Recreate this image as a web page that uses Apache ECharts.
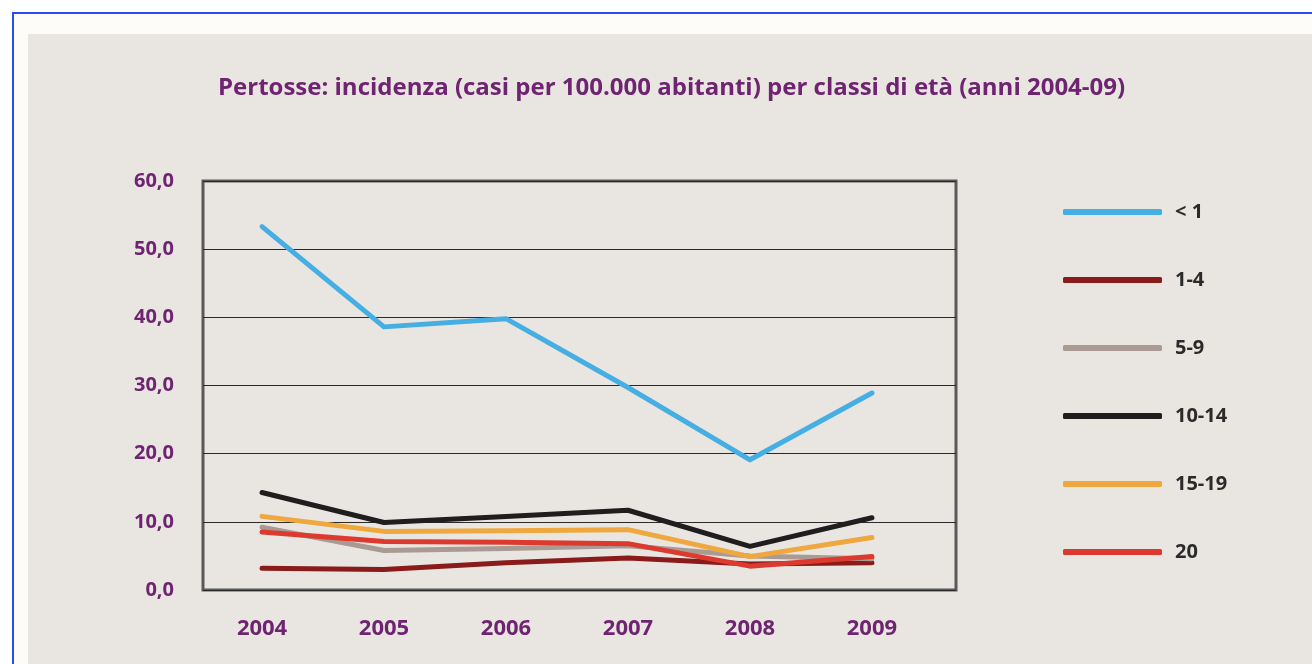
<!DOCTYPE html>
<html>
<head>
<meta charset="utf-8">
<script src="https://cdn.jsdelivr.net/npm/echarts@6/dist/echarts.min.js"></script>
<style>
  html, body { margin: 0; padding: 0; background: #ffffff; width: 1312px; height: 664px; overflow: hidden; }
  #frame { position: absolute; left: 12px; top: 12px; width: 1400px; height: 700px;
           border-left: 2px solid #2a4cf2; border-top: 2px solid #2a4cf2; background: #fdfcf9; }
  #panel { position: absolute; left: 28px; top: 34px; width: 1300px; height: 640px; background: #e9e6e2; }
  #chart { position: absolute; left: 0; top: 0; width: 1312px; height: 664px; }
</style>
</head>
<body>
<div id="frame"></div>
<div id="panel"></div>
<div id="chart"></div>
<script>
// Pertussis incidence per 100,000 inhabitants by age group, 2004-2009
const years = [2004, 2005, 2006, 2007, 2008, 2009];
const ageGroups = ['< 1', '1-4', '5-9', '10-14', '15-19', '20'];
const under1   = [53.3, 38.6, 39.8, 29.7, 19.1, 28.9];
const age1to4  = [3.2, 3.0, 4.0, 4.7, 3.8, 4.0];
const age5to9  = [9.2, 5.8, 6.1, 6.5, 5.0, 4.6];
const age10to14 = [14.3, 9.9, 10.8, 11.7, 6.4, 10.6];
const age15to19 = [10.8, 8.6, 8.7, 8.85, 4.9, 7.7];
const age20    = [8.5, 7.1, 7.0, 6.8, 3.5, 4.9];
const yTicks = [0, 10, 20, 30, 40, 50, 60];

const seriesValues = [under1, age1to4, age5to9, age10to14, age15to19, age20];
const colors = ['#45aee2', '#8a1b1b', '#a99b93', '#1f1d1d', '#efa73f', '#dc3a2e'];

const purple = '#6e2470';
const fontFam = '"Open Sans", Lato, sans-serif';

const chart = echarts.init(document.getElementById('chart'), null, { renderer: 'canvas' });

chart.setOption({
  backgroundColor: 'transparent',
  animation: false,
  title: {
    text: 'Pertosse: incidenza (casi per 100.000 abitanti) per classi di età (anni 2004-09)',
    left: 213,
    top: 71,
    textStyle: { color: purple, fontSize: 24, fontWeight: 'bold', fontFamily: fontFam }
  },
  legend: {
    orient: 'vertical',
    left: 1058,
    top: 197,
    itemWidth: 99,
    itemHeight: 6,
    itemGap: 48,
    icon: 'roundRect',
    data: ageGroups,
    textStyle: { color: '#2b2a2a', fontSize: 20, fontWeight: 'bold', fontFamily: fontFam,
                 lineHeight: 20, padding: [0, 0, 0, 8] }
  },
  grid: {
    left: 203, right: 356, top: 181, bottom: 74,
    show: true, borderColor: '#5a5858', borderWidth: 3, backgroundColor: 'transparent'
  },
  xAxis: {
    type: 'value',
    min: 2003.516,
    max: 2009.689,
    axisLine: { show: false },
    axisTick: { show: false },
    splitLine: { show: false },
    axisLabel: {
      customValues: years,
      margin: 28,
      color: purple, fontSize: 22, fontWeight: 'bold', fontFamily: fontFam,
      formatter: v => String(v)
    }
  },
  yAxis: {
    type: 'value',
    min: 0, max: 60, interval: 10,
    axisLine: { show: false },
    axisTick: { show: false },
    splitLine: { show: true, lineStyle: { color: '#2a2a2a', width: 1.2 } },
    axisLabel: {
      margin: 29,
      color: purple, fontSize: 20, fontWeight: 'bold', fontFamily: fontFam,
      formatter: v => yTicks.includes(v) ? v.toFixed(1).replace('.', ',') : ''
    }
  },
  series: ageGroups.map((name, i) => ({
    name,
    type: 'line',
    symbol: 'none',
    data: years.map((y, j) => [y, seriesValues[i][j]]),
    lineStyle: { color: colors[i], width: 5, cap: 'round', join: 'round' },
    itemStyle: { color: colors[i] },
    z: 2 + i
  }))
});
</script>
</body>
</html>
